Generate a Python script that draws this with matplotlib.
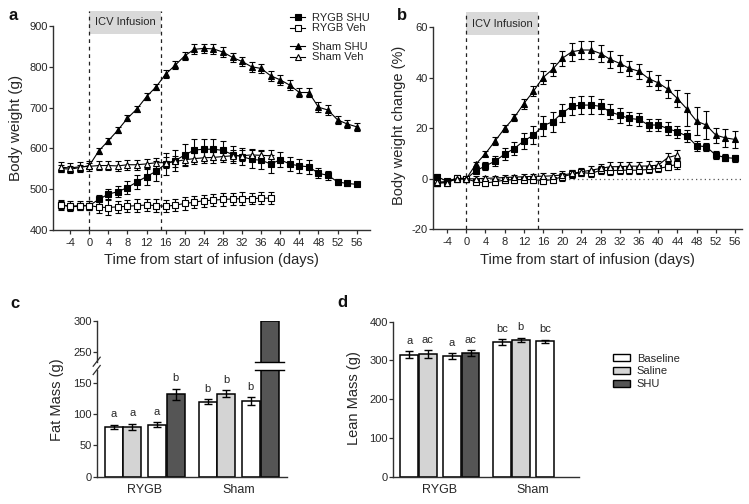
import numpy as np
import matplotlib
matplotlib.use("Agg")
import matplotlib.pyplot as plt
from matplotlib.patches import Rectangle, Patch
from matplotlib.lines import Line2D

plt.rcParams['font.family'] = ['Liberation Sans', 'DejaVu Sans']
plt.rcParams['axes.unicode_minus'] = False

TXT = '#262626'
SPINE = '#303030'

# ---------------- data ----------------
days = [-6, -4, -2, 0, 2, 4, 6, 8, 10, 12, 14, 16, 18, 20, 22, 24, 26, 28,
        30, 32, 34, 36, 38, 40, 42, 44, 46, 48, 50, 52, 54, 56]
days_veh_a = [-6, -4, -2, 0, 2, 4, 6, 8, 10, 12, 14, 16, 18, 20, 22, 24, 26,
              28, 30, 32, 34, 36, 38]
days_veh_b = [-6, -4, -2, 0, 2, 4, 6, 8, 10, 12, 14, 16, 18, 20, 22, 24, 26,
              28, 30, 32, 34, 36, 38, 40, 42, 44]
infusion_start = 0
infusion_end = 15

# Panel a: body weight (g)
bw_rygb_shu = [462, 457, 458, 460, 475, 488, 494, 504, 518, 531, 544, 562, 570,
               584, 596, 598, 598, 595, 585, 580, 573, 571, 562, 572, 562, 557,
               555, 539, 534, 518, 514, 512]
bw_rygb_shu_err = [10, 8, 8, 10, 12, 12, 14, 15, 18, 20, 25, 26, 26, 28, 26,
                   26, 26, 24, 21, 20, 22, 22, 22, 18, 17, 18, 17, 12, 11, 8, 7, 5]
bw_rygb_veh = [462, 458, 460, 460, 456, 455, 457, 458, 460, 461, 460, 458, 461,
               465, 468, 472, 473, 475, 476, 477, 477, 478, 478]
bw_rygb_veh_err = [12, 12, 12, 12, 15, 18, 15, 15, 15, 15, 15, 15, 15, 15, 15,
                   15, 15, 15, 15, 15, 14, 14, 14]
bw_sham_shu = [551, 549, 553, 558, 594, 619, 645, 674, 697, 727, 751, 782, 804,
               827, 843, 845, 844, 836, 823, 813, 800, 796, 778, 768, 755, 737,
               737, 701, 694, 670, 660, 653]
bw_sham_shu_err = [8, 8, 7, 7, 7, 7, 7, 7, 7, 8, 8, 10, 10, 10, 12, 12, 12, 12,
                   12, 12, 12, 12, 12, 12, 12, 12, 12, 12, 12, 10, 10, 10]
bw_sham_veh = [554, 552, 555, 556, 558, 558, 557, 560, 560, 562, 565, 565, 568,
               572, 575, 577, 578, 580, 582, 582, 584, 583, 582]
bw_sham_veh_err = [12, 12, 12, 12, 12, 12, 12, 12, 12, 12, 12, 13, 13, 13, 13,
                   14, 14, 14, 14, 14, 14, 14, 14]

# Panel b: body weight change (%)
pc_rygb_shu = [0.8, -1, 0, 0, 3.2, 5.1, 7, 9.8, 12, 15, 17.3, 21, 22.6, 26.1,
               28.7, 29.2, 29.2, 28.7, 26.5, 25.2, 23.9, 23.5, 21.3, 21.3, 19.9,
               18.6, 16.9, 13.1, 12.7, 9.4, 8.4, 8.1]
pc_rygb_shu_err = [1, 1, 1, 0.5, 1, 1.5, 2, 2.5, 2.5, 3, 3.5, 4, 4, 3.5, 3.5,
                   3.5, 3.5, 3, 3, 3, 2.5, 2.5, 2.5, 2.5, 2.5, 2.5, 2.5, 2,
                   1.5, 1.5, 1.5, 1.5]
pc_rygb_veh = [-1.8, -1.5, 0.5, 0, -1.2, -1.6, -1.2, -0.5, -0.3, -0.3, -0.3,
               -0.8, -0.3, 0.8, 1.8, 2.5, 2.1, 3.4, 3.2, 3.4, 3.4, 3.4, 3.7,
               4.1, 4.8, 5.8]
pc_rygb_veh_err = [1.2, 1, 1, 0.5, 1, 1.2, 1.2, 1.2, 1.2, 1.2, 1.2, 1.2, 1.2,
                   1.5, 1.5, 1.5, 1.5, 1.5, 1.5, 1.5, 1.5, 1.5, 1.5, 1.5, 1.5, 2]
pc_sham_shu = [-1.5, -1, 0, 0, 5.8, 10, 15, 20, 24.3, 29.8, 34.7, 40.1, 43.4,
               47.7, 50.3, 51, 51, 49.6, 47.3, 45.7, 43.7, 42.6, 39.7, 38, 35.5,
               31.8, 27.6, 22.8, 21.3, 17.3, 16.2, 15.6]
pc_sham_shu_err = [1.5, 1, 1, 0.5, 1, 1, 1.5, 1.5, 1.5, 2, 2, 2.5, 2.5, 3, 3.5,
                   3.5, 3.5, 3.5, 3.5, 3.5, 3, 3, 3, 3, 3.5, 3.5, 6.5, 5.5,
                   5.5, 3, 3.5, 3.5]
pc_sham_veh = [-1.2, -1.5, 0, 0, 0, 0.2, 0.3, 0.5, 0.7, 0.8, 1.0, 1.0, 1.2,
               1.5, 2.1, 2.8, 3.4, 4.1, 4.8, 4.8, 5, 5, 5.1, 5.4, 8.4, 9.4]
pc_sham_veh_err = [1.2, 1, 1, 0.5, 1, 1, 1, 1, 1, 1, 1, 1.2, 1.2, 1.5, 1.5,
                   1.5, 1.5, 1.8, 1.8, 1.8, 1.8, 1.8, 1.8, 1.8, 1.8, 2]

series_labels = ['RYGB SHU', 'RYGB Veh', 'Sham SHU', 'Sham Veh']

# Panels c/d: body composition
groups = ['RYGB', 'Sham']
legend_labels = ['Baseline', 'Saline', 'SHU']
fat_baseline1 = [80, 120]
fat_baseline1_err = [3, 4]
fat_saline = [80, 133]
fat_saline_err = [5, 5]
fat_baseline2 = [83, 121]
fat_baseline2_err = [4, 6]
fat_shu = [132, 300]
fat_shu_err = [9, np.nan]
fat_letters = [['a', 'b'], ['a', 'b'], ['a', 'b'], ['b', '']]

lean_baseline1 = [315, 348]
lean_baseline1_err = [9, 7]
lean_saline = [316, 353]
lean_saline_err = [10, 5]
lean_baseline2 = [311, 349]
lean_baseline2_err = [7, 4]
lean_shu = [319, np.nan]
lean_shu_err = [7, np.nan]
lean_letters = [['a', 'bc'], ['ac', 'b'], ['a', 'bc'], ['ac', '']]

# ---------------- layout ----------------
W, H = 749, 504
fig = plt.figure(figsize=(W / 100, H / 100), dpi=100)


def axes_px(left, top, right, bottom):
    return fig.add_axes([left / W, 1 - bottom / H, (right - left) / W, (bottom - top) / H])


def style(ax):
    for s in ['top', 'right']:
        ax.spines[s].set_visible(False)
    for s in ['left', 'bottom']:
        ax.spines[s].set_linewidth(1.0)
        ax.spines[s].set_color(SPINE)
    ax.tick_params(direction='out', length=2.6, width=0.9, labelsize=8,
                   colors=SPINE, labelcolor=TXT, pad=1)


def line_series(ax, x, y, e, marker, filled, ms):
    ax.errorbar(x, y, yerr=e, color='black', lw=0.8, marker=marker, ms=ms,
                mfc='black' if filled else 'white', mec='black', mew=0.8,
                elinewidth=0.8, capsize=2.3, capthick=0.8, zorder=3)


def infusion(ax):
    tr = ax.get_xaxis_transform()
    hpx = ax.get_position().height * H
    ytop = 1 + 15 / hpx
    ybot = 1 - 8 / hpx
    ax.add_patch(Rectangle((infusion_start, ybot), infusion_end - infusion_start,
                           ytop - ybot, transform=tr, facecolor='#d9d9d9',
                           edgecolor='none', clip_on=False, zorder=0))
    ax.text((infusion_start + infusion_end) / 2, (ytop + ybot) / 2, 'ICV Infusion',
            transform=tr, ha='center', va='center', fontsize=8, color=TXT)
    for xv in (infusion_start, infusion_end):
        ax.plot([xv, xv], [0, ytop], transform=tr, ls=(0, (3, 3)), lw=0.9,
                color='#222222', clip_on=False, zorder=1)


markers = [('s', True, 4.6), ('s', False, 5.0), ('^', True, 4.6), ('^', False, 4.8)]

# ---- Panel a ----
ax_a = axes_px(53, 26, 370, 230)
style(ax_a)
ax_a.set_xlim(-7.6, 58.8)
ax_a.set_ylim(400, 900)
infusion(ax_a)
a_data = [(days, bw_rygb_shu, bw_rygb_shu_err),
          (days_veh_a, bw_rygb_veh, bw_rygb_veh_err),
          (days, bw_sham_shu, bw_sham_shu_err),
          (days_veh_a, bw_sham_veh, bw_sham_veh_err)]
for (x, y, e), (m, f, ms) in zip(a_data, markers):
    line_series(ax_a, x, y, e, m, f, ms)
ax_a.set_xticks(list(range(-4, 57, 4)))
ax_a.set_yticks(list(range(400, 901, 100)))
ax_a.tick_params(axis='x', pad=3)
ax_a.set_ylabel('Body weight (g)', fontsize=11, color=TXT)
ax_a.set_xlabel('Time from start of infusion (days)', fontsize=10.5, color=TXT)
ax_a.yaxis.set_label_coords(-0.096, 0.5)
ax_a.xaxis.set_label_coords(0.5, -0.113)

# legend for a (two blocks)
handles = [Line2D([], [], color='black', lw=0.8, marker=m, ms=ms,
                  mfc='black' if f else 'white', mec='black', mew=0.8)
           for (m, f, ms) in markers]
leg_kw = dict(loc='upper left', frameon=False, fontsize=8, handlelength=1.35,
              handletextpad=0.6, labelspacing=0.05, borderpad=0, borderaxespad=0,
              labelcolor=TXT)
fig.legend(handles[:2], series_labels[:2], bbox_to_anchor=(290 / W, 1 - 12.9 / H), **leg_kw)
fig.legend(handles[2:], series_labels[2:], bbox_to_anchor=(290 / W, 1 - 41.9 / H), **leg_kw)

# ---- Panel b ----
ax_b = axes_px(432.7, 27.3, 741.7, 229.3)
style(ax_b)
ax_b.set_xlim(-7.0, 57.4)
ax_b.set_ylim(-20, 60)
infusion(ax_b)
ax_b.axhline(0, ls=(0, (1, 2.5)), lw=0.9, color='#555555', zorder=1)
b_data = [(days, pc_rygb_shu, pc_rygb_shu_err),
          (days_veh_b, pc_rygb_veh, pc_rygb_veh_err),
          (days, pc_sham_shu, pc_sham_shu_err),
          (days_veh_b, pc_sham_veh, pc_sham_veh_err)]
for (x, y, e), (m, f, ms) in zip(b_data, markers):
    line_series(ax_b, x, y, e, m, f, ms)
ax_b.set_xticks(list(range(-4, 57, 4)))
ax_b.set_yticks([-20, 0, 20, 40, 60])
ax_b.tick_params(axis='x', pad=3)
ax_b.set_ylabel('Body weight change (%)', fontsize=10.5, color=TXT)
ax_b.set_xlabel('Time from start of infusion (days)', fontsize=10.5, color=TXT)
ax_b.yaxis.set_label_coords(-0.087, 0.516)
ax_b.xaxis.set_label_coords(0.5, -0.117)

# ---- bar panels ----
bar_offsets = [-0.33, -0.13, 0.13, 0.33]
bar_w = 0.19
bar_colors = ['white', '#d4d4d4', 'white', '#555555']
legend_colors = ['white', '#d4d4d4', '#555555']
gx = np.arange(len(groups))


def draw_bars(ax, vals_list, errs_list, letters=None):
    for i, (vals, errs) in enumerate(zip(vals_list, errs_list)):
        x = gx + bar_offsets[i]
        ax.bar(x, vals, bar_w, color=bar_colors[i], edgecolor='black', lw=1.1, zorder=2)
        ax.errorbar(x, vals, yerr=errs, fmt='none', ecolor='black', elinewidth=1.0,
                    capsize=3, capthick=1.0, zorder=3)
        if letters is not None:
            for j in range(len(groups)):
                if letters[i][j] and not np.isnan(vals[j]):
                    ax.annotate(letters[i][j], (x[j], vals[j] + errs[j]), xytext=(0, 4),
                                textcoords='offset points', ha='center', va='bottom',
                                fontsize=8, color=TXT)


# ---- Panel c (broken axis) ----
ax_cl = axes_px(96.7, 370, 286.7, 476.7)
ax_cu = axes_px(96.7, 320.7, 286.7, 361.7)
for ax in (ax_cl, ax_cu):
    style(ax)
    ax.set_xlim(-0.51, 1.512)
ax_cl.set_ylim(0, 170.8)
ax_cu.set_ylim(235, 300)
fat_vals = [fat_baseline1, fat_saline, fat_baseline2, fat_shu]
fat_errs = [fat_baseline1_err, fat_saline_err, fat_baseline2_err, fat_shu_err]
draw_bars(ax_cl, fat_vals, fat_errs, fat_letters)
draw_bars(ax_cu, fat_vals, fat_errs)
ax_cl.set_yticks([0, 50, 100, 150])
ax_cu.set_yticks([250, 300])
ax_cu.spines['bottom'].set_visible(False)
ax_cu.tick_params(axis='x', bottom=False, labelbottom=False)
ax_cl.set_xticks(gx)
ax_cl.set_xticklabels(groups)
ax_cl.tick_params(axis='x', length=0, pad=5, labelsize=9)
ax_cl.set_ylabel('Fat Mass (g)', fontsize=10.5, color=TXT)
ax_cl.yaxis.set_label_coords(-0.174, 0.722)

# break marks on y spine
for ax, yb in ((ax_cl, 1.0), (ax_cu, 0.0)):
    pos = ax.get_position()
    dx = 3.5 / (pos.width * W)
    dy = 4.5 / (pos.height * H)
    ax.plot([-dx, dx], [yb - dy, yb + dy], transform=ax.transAxes, color=SPINE,
            lw=0.9, clip_on=False)
# break lines on bars that exceed the lower range
ext = 0.06
for i, vals in enumerate(fat_vals):
    for j, v in enumerate(vals):
        if v > ax_cl.get_ylim()[1]:
            xc = gx[j] + bar_offsets[i]
            for ax, yy in ((ax_cl, ax_cl.get_ylim()[1]), (ax_cu, ax_cu.get_ylim()[0])):
                ax.plot([xc - bar_w / 2 - ext, xc + bar_w / 2 + ext], [yy, yy],
                        color='black', lw=1.0, clip_on=False, zorder=5)

# ---- Panel d ----
ax_d = axes_px(392.7, 321.7, 579.3, 476.7)
style(ax_d)
ax_d.set_xlim(-0.508, 1.50)
ax_d.set_ylim(0, 400)
lean_vals = [lean_baseline1, lean_saline, lean_baseline2, lean_shu]
lean_errs = [lean_baseline1_err, lean_saline_err, lean_baseline2_err, lean_shu_err]
draw_bars(ax_d, lean_vals, lean_errs, lean_letters)
ax_d.set_yticks([0, 100, 200, 300, 400])
ax_d.set_xticks(gx)
ax_d.set_xticklabels(groups)
ax_d.tick_params(axis='x', length=0, pad=5, labelsize=9)
ax_d.set_ylabel('Lean Mass (g)', fontsize=10.5, color=TXT)
ax_d.yaxis.set_label_coords(-0.171, 0.506)

leg_handles = [Patch(facecolor=c, edgecolor='black', lw=1.0) for c in legend_colors]
fig.legend(leg_handles, legend_labels, loc='upper left',
           bbox_to_anchor=(613 / W, 1 - 353.6 / H), frameon=False, fontsize=8,
           handlelength=1.55, handleheight=0.6, handletextpad=0.6, labelspacing=0.25,
           borderpad=0, borderaxespad=0, labelcolor=TXT)

# panel letters
for lab, px, py in (('a', 13.3, 16), ('b', 401.7, 16), ('c', 15, 303), ('d', 342.7, 302.7)):
    fig.text(px / W, 1 - py / H, lab, ha='center', va='center', fontsize=12,
             fontweight='bold', color='#111111')

fig.savefig('out.png', dpi=100)
